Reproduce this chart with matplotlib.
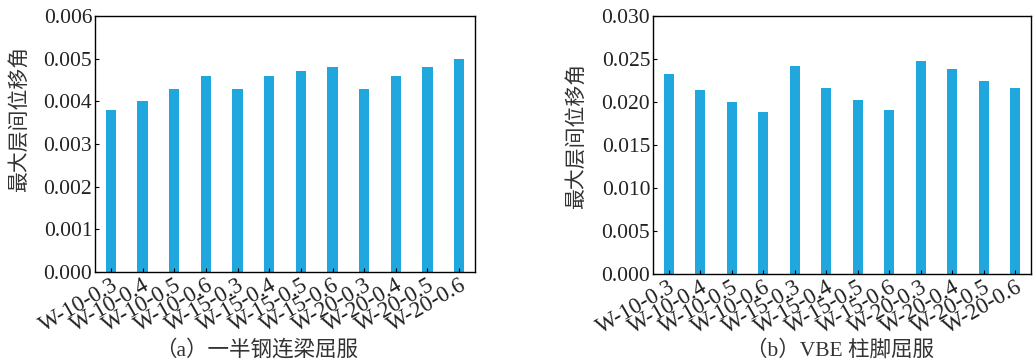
import matplotlib
matplotlib.use('Agg')
import matplotlib.pyplot as plt
import numpy as np

plt.rcParams['font.family'] = ['Liberation Serif', 'Noto Sans CJK SC']

cases = ['W-10-0.3', 'W-10-0.4', 'W-10-0.5', 'W-10-0.6',
         'W-15-0.3', 'W-15-0.4', 'W-15-0.5', 'W-15-0.6',
         'W-20-0.3', 'W-20-0.4', 'W-20-0.5', 'W-20-0.6']
drift_a = [0.0038, 0.0040, 0.0043, 0.0046, 0.0043, 0.0046,
           0.0047, 0.0048, 0.0043, 0.0046, 0.0048, 0.0050]
drift_b = [0.0233, 0.0214, 0.0200, 0.0188, 0.0242, 0.0216,
           0.0202, 0.0191, 0.0248, 0.0238, 0.0224, 0.0216]
yticks_a = [0.000, 0.001, 0.002, 0.003, 0.004, 0.005, 0.006]
yticks_b = [0.000, 0.005, 0.010, 0.015, 0.020, 0.025, 0.030]
ylabel = '最大层间位移角'
captions = ['（a）一半钢连梁屈服', '（b）VBE 柱脚屈服']

W, H = 1034, 363
fig = plt.figure(figsize=(W/100, H/100), dpi=100)
ax_a = fig.add_axes([95/W, (H-272)/H, 380/W, 256/H])
ax_b = fig.add_axes([653/W, (H-274)/H, 378/W, 258/H])

bar_color = '#1fa7de'
cjk = ['Liberation Serif', 'Noto Sans CJK SC']
txt_color = '#222222'

for ax, vals, yt, cap, ylab_x, ylab_y, cap_x in [
        (ax_a, drift_a, yticks_a, captions[0], 20, 119, 257),
        (ax_b, drift_b, yticks_b, captions[1], 577, 136, 840)]:
    x = np.arange(len(cases))
    ax.bar(x, vals, width=0.32, color=bar_color)
    ax.set_xlim(-0.5, len(cases) - 0.5)
    ax.set_ylim(yt[0], yt[-1])
    ax.set_yticks(yt)
    ax.set_yticklabels(['%.3f' % v for v in yt], fontsize=15.5, color=txt_color)
    ax.set_xticks(x)
    ax.set_xticklabels(cases, rotation=30, ha='right', rotation_mode='anchor',
                       fontsize=16.5, color=txt_color)
    ax.tick_params(direction='in', length=3, width=0.8, pad=2)
    for s in ax.spines.values():
        s.set_linewidth(1.0)
    fig.text(ylab_x/W, 1 - ylab_y/H, ylabel, rotation=90, ha='center', va='center',
             fontsize=15, family=cjk, color='#333333')
    fig.text(cap_x/W, 1 - 350/H, cap, ha='center', va='center',
             fontsize=15.5, family=cjk, color='#333333')

fig.savefig('out.png', dpi=100)
